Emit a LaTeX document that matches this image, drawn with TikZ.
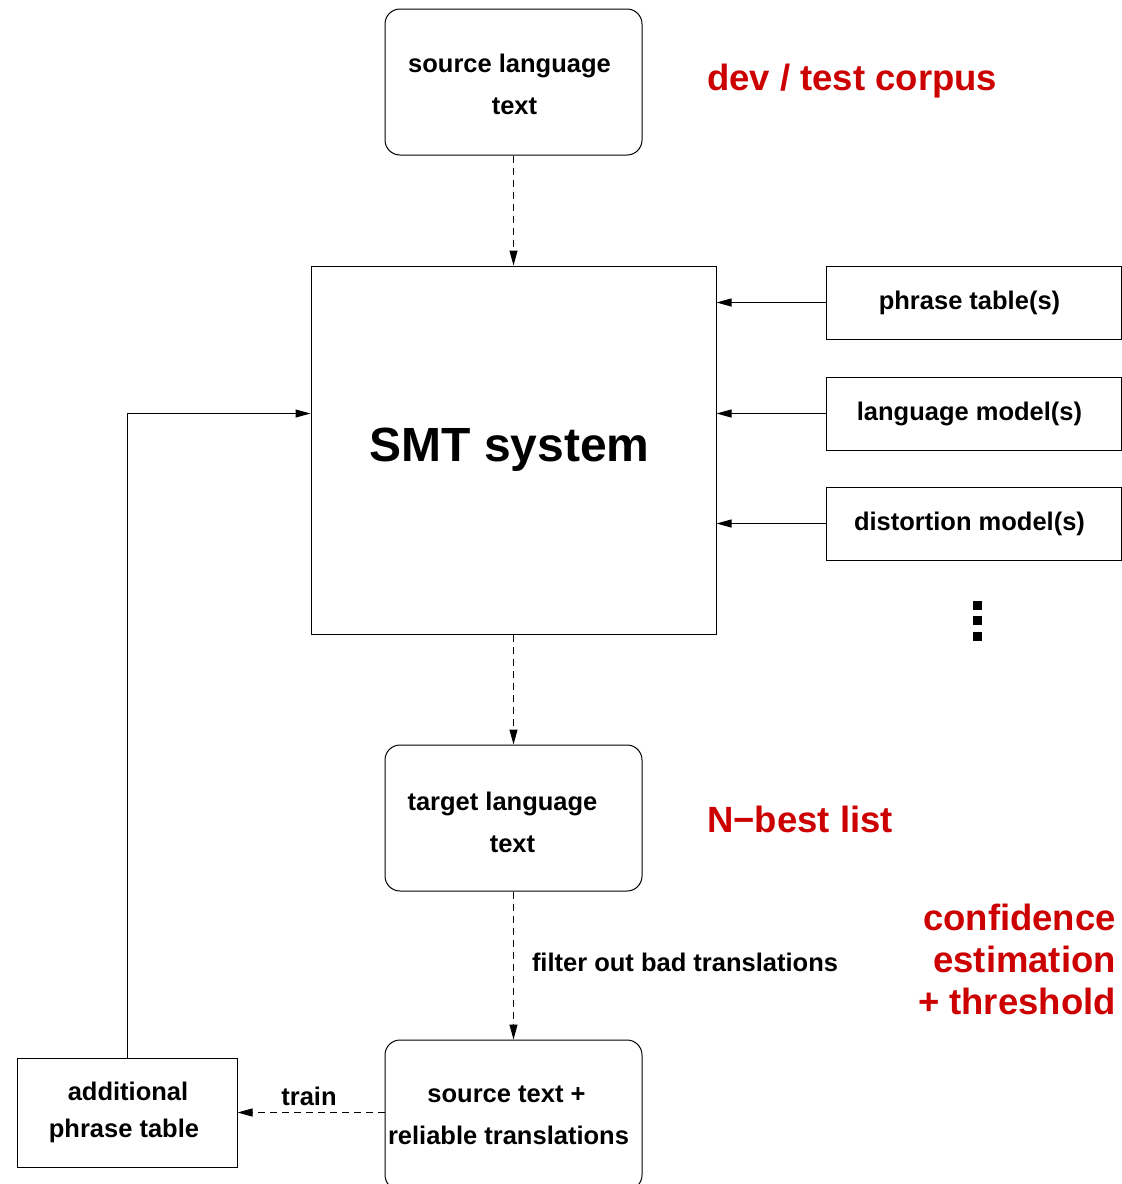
\documentclass[tikz,border=0pt]{standalone}
\usepackage{fontspec}
\setmainfont{Liberation Sans}
\usetikzlibrary{arrows.meta, positioning}
\definecolor{remarkred}{RGB}{204,0,0}
\def\boxfont{\bfseries\fontsize{25.5}{42}\selectfont}
\def\redfont{\bfseries\fontsize{36.5}{42}\selectfont}
\def\nudge#1{\hspace*{#1pt}} % pushes a centred line to the left
\tikzset{
x=1pt, y=-1pt, % one unit is one pixel of the sketch, y runs downwards
box/.style={draw, line width=1pt, align=center, inner sep=0pt, font=\boxfont}, % plain square box
roundbox/.style={box, rounded corners=15pt, minimum width=257pt, minimum height=146pt}, % text boxes on the main flow
modelbox/.style={box, minimum width=295pt, minimum height=73pt}, % models on the right
flow/.style={-{Triangle[length=15pt,width=8pt]}, line width=1pt}, % solid arrow
dashflow/.style={flow, dash pattern=on 7pt off 5pt}, % dashed arrow
note/.style={font=\boxfont, inner sep=0pt}, % black remarks on arrows
redtext/.style={text=remarkred, font=\redfont, inner sep=0pt}, % red remarks
dotsq/.style={fill, minimum size=9pt, inner sep=0pt}, % the vertical dots
}

\begin{document}
\begin{tikzpicture}
\useasboundingbox (0,0) rectangle (1122,1184);

% boxes along the main flow
\node[roundbox] (source) at (513.5,82) {\rule{0pt}{23pt}source language\nudge{8}\\text\nudge{-2}};
\node[box, minimum width=405pt, minimum height=368pt,
      font=\bfseries\fontsize{48}{56}\selectfont] (smt) at (513.5,450) {SMT system\nudge{8}};
\node[roundbox] (target) at (513.5,818) {\rule{0pt}{27pt}target language\nudge{22}\\text\nudge{2}};
\node[roundbox, minimum height=150pt] (reliable) at (513.5,1115) {source text +\nudge{14}\\reliable translations\nudge{10}};
\node[box, minimum width=220pt, minimum height=109pt,
      font=\bfseries\fontsize{25.5}{37}\selectfont] (additional) at (127,1112.5) {additional\nudge{-2}\\phrase table\nudge{6}};

% models feeding the system
\node[modelbox] (phrase) at (973.5,302.5) {phrase table(s)\nudge{8}};
\node[modelbox] (language) at (973.5,413.5) {language model(s)\nudge{8}};
\node[modelbox] (distortion) at (973.5,523.5) {distortion model(s)\nudge{8}};
\foreach \y [count=\i] in {605.5,620.5,636.5}
  \node[dotsq] (dot\i) at (977.5,\y) {};

% red remarks
\node[redtext, anchor=west] (corpus) at (707,81) {dev / test corpus};
\node[redtext, anchor=west] (nbest) at (707,819) {N−best list};
\node[redtext, anchor=east, align=right] (confidence) at (1116,959) {confidence\\estimation\\+ threshold};

% connectors
\draw[dashflow] (source) -- (smt);
\draw[dashflow] (smt) -- (target);
\draw[dashflow] (target) -- (reliable)
  node[note, midway, right=18pt, yshift=3pt] (filter) {filter out bad translations};
\draw[dashflow] (reliable.west |- additional.east) -- (additional.east)
  node[note, midway, above=6pt, xshift=-2pt] (train) {train};
\foreach \m in {phrase, language, distortion}
  \draw[flow] (\m.west) -- (smt.east |- \m.west);
\draw[flow] (additional.north) |- (smt.west |- language.west);

\end{tikzpicture}
\end{document}
